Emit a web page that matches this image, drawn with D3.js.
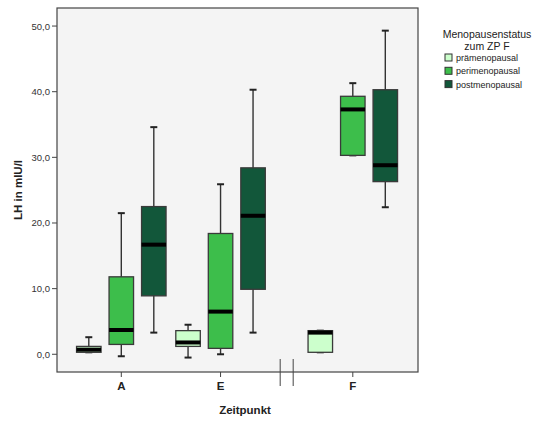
<!DOCTYPE html>
<html lang="de">
<head>
    <meta charset="UTF-8">
    <title>LH nach Zeitpunkt</title>
    <script src="https://d3js.org/d3.v7.min.js"></script>
    <style>
        body {
            margin: 0;
            padding: 0;
            background-color: white;
        }
        svg {
            display: block;
            font-family: Arial, 'Liberation Sans', sans-serif;
        }
        .tick-label {
            font-size: 9.5px;
            fill: #333;
        }
        .axis-title {
            font-size: 11.5px;
            font-weight: bold;
            fill: #222;
        }
    </style>
</head>
<body>
    <svg width="538" height="421"></svg>

    <script>
        // Zeitpunkte und Gruppen
        const zeitpunkte = ["A", "E", "F"];
        const status = ["prämenopausal", "perimenopausal", "postmenopausal"];
        const statusColors = ["#ccffcc", "#3dbe4b", "#12573a"];
        const yTicks = [0, 10, 20, 30, 40, 50];

        // Box-Werte [min, q1, median, q3, max] je Zeitpunkt und Gruppe
        const boxA = [
            [0.3, 0.3, 0.7, 1.2, 2.6],
            [-0.3, 1.5, 3.7, 11.8, 21.5],
            [3.3, 8.9, 16.7, 22.5, 34.6]
        ];
        const boxE = [
            [-0.5, 1.2, 1.8, 3.6, 4.5],
            [0.0, 0.9, 6.5, 18.4, 25.9],
            [3.3, 9.9, 21.1, 28.4, 40.3]
        ];
        const boxF = [
            [0.3, 0.3, 3.3, 3.6, 3.6],
            [30.3, 30.3, 37.3, 39.3, 41.3],
            [22.4, 26.3, 28.8, 40.3, 49.3]
        ];

        const svg = d3.select("svg");
        const plot = { left: 57, top: 8, right: 418, bottom: 372 };

        const yScale = d3.scaleLinear()
            .domain([-2.7, 52.75])
            .range([plot.bottom, plot.top]);

        // equal spacing, F comes after an axis break
        const xCat = d3.scalePoint()
            .domain(zeitpunkte)
            .range([121.3, 319.8]);
        const breakGap = 33;
        function xPos(z) {
            return xCat(z) + (z === "F" ? breakGap : 0);
        }

        const xInner = d3.scalePoint()
            .domain(status)
            .range([-32.5, 32.5]);
        const boxWidth = 24.5;
        const capWidth = 7;

        const rows = [];
        [boxA, boxE, boxF].forEach(function(group, i) {
            group.forEach(function(v, j) {
                rows.push({ zeit: zeitpunkte[i], status: status[j], color: statusColors[j],
                    min: v[0], q1: v[1], median: v[2], q3: v[3], max: v[4] });
            });
        });

        // plot background
        svg.append("rect")
            .attr("x", plot.left)
            .attr("y", plot.top)
            .attr("width", plot.right - plot.left)
            .attr("height", plot.bottom - plot.top)
            .attr("fill", "#f4f4f4")
            .attr("stroke", "#444")
            .attr("stroke-width", 1.2);

        // y ticks
        svg.selectAll(".ytick")
            .data(yTicks)
            .enter()
            .append("line")
            .attr("x1", plot.left - 5)
            .attr("x2", plot.left)
            .attr("y1", function(d) { return yScale(d); })
            .attr("y2", function(d) { return yScale(d); })
            .attr("stroke", "#444");

        svg.selectAll(".ylabel")
            .data(yTicks)
            .enter()
            .append("text")
            .attr("class", "tick-label")
            .attr("x", plot.left - 7)
            .attr("y", function(d) { return yScale(d) + 3.5; })
            .attr("text-anchor", "end")
            .text(function(d) { return d3.format(".1f")(d).replace(".", ","); });

        // x ticks
        svg.selectAll(".xtick")
            .data(zeitpunkte)
            .enter()
            .append("line")
            .attr("x1", function(d) { return xPos(d); })
            .attr("x2", function(d) { return xPos(d); })
            .attr("y1", plot.bottom)
            .attr("y2", plot.bottom + 5)
            .attr("stroke", "#444");

        svg.selectAll(".xlabel")
            .data(zeitpunkte)
            .enter()
            .append("text")
            .attr("class", "axis-title")
            .attr("x", function(d) { return xPos(d); })
            .attr("y", plot.bottom + 18)
            .attr("text-anchor", "middle")
            .text(function(d) { return d; });

        // axis break marks between E and F
        const breakX = (xPos("E") + xCat("F")) / 2 + 16.5;
        [-6.5, 6.5].forEach(function(dx) {
            svg.append("line")
                .attr("x1", breakX + dx)
                .attr("x2", breakX + dx)
                .attr("y1", plot.bottom - 13)
                .attr("y2", plot.bottom + 14)
                .attr("stroke", "#444")
                .attr("stroke-width", 1);
        });

        // boxplots
        const boxes = svg.selectAll(".box")
            .data(rows)
            .enter()
            .append("g")
            .attr("class", "box")
            .attr("transform", function(d) {
                return "translate(" + (xPos(d.zeit) + xInner(d.status)) + ",0)";
            });

        boxes.append("line")
            .attr("x1", 0).attr("x2", 0)
            .attr("y1", function(d) { return yScale(d.max); })
            .attr("y2", function(d) { return yScale(d.min); })
            .attr("stroke", "#333")
            .attr("stroke-width", 1.4);

        boxes.append("line")
            .attr("x1", -capWidth / 2).attr("x2", capWidth / 2)
            .attr("y1", function(d) { return yScale(d.max); })
            .attr("y2", function(d) { return yScale(d.max); })
            .attr("stroke", "#222")
            .attr("stroke-width", 2);

        boxes.append("line")
            .attr("x1", -capWidth / 2).attr("x2", capWidth / 2)
            .attr("y1", function(d) { return yScale(d.min); })
            .attr("y2", function(d) { return yScale(d.min); })
            .attr("stroke", "#222")
            .attr("stroke-width", 2);

        boxes.append("rect")
            .attr("x", -boxWidth / 2)
            .attr("width", boxWidth)
            .attr("y", function(d) { return yScale(d.q3); })
            .attr("height", function(d) { return Math.max(yScale(d.q1) - yScale(d.q3), 1); })
            .attr("fill", function(d) { return d.color; })
            .attr("stroke", "#3a3a3a")
            .attr("stroke-width", 1.3);

        boxes.append("line")
            .attr("x1", -boxWidth / 2).attr("x2", boxWidth / 2)
            .attr("y1", function(d) { return yScale(d.median); })
            .attr("y2", function(d) { return yScale(d.median); })
            .attr("stroke", "black")
            .attr("stroke-width", 4);

        // axis titles
        svg.append("text")
            .attr("class", "axis-title")
            .attr("transform", "translate(22," + ((plot.top + plot.bottom) / 2) + ") rotate(-90)")
            .attr("text-anchor", "middle")
            .text("LH in mIU/l");

        svg.append("text")
            .attr("class", "axis-title")
            .attr("x", 245)
            .attr("y", 414)
            .attr("text-anchor", "middle")
            .text("Zeitpunkt");

        // legend
        const legend = svg.append("g").attr("transform", "translate(487,0)");
        legend.append("text")
            .attr("x", 0).attr("y", 38)
            .attr("text-anchor", "middle")
            .style("font-size", "10.5px")
            .attr("fill", "#222")
            .text("Menopausenstatus");
        legend.append("text")
            .attr("x", 0).attr("y", 50)
            .attr("text-anchor", "middle")
            .style("font-size", "10.5px")
            .attr("fill", "#222")
            .text("zum ZP F");

        const items = legend.selectAll(".item")
            .data(status)
            .enter()
            .append("g")
            .attr("class", "item")
            .attr("transform", function(d, i) { return "translate(-42," + (58 + i * 13.3) + ")"; });

        items.append("rect")
            .attr("x", 0).attr("y", -4)
            .attr("width", 7).attr("height", 7)
            .attr("fill", function(d, i) { return statusColors[i]; })
            .attr("stroke", "#333")
            .attr("stroke-width", 1);

        items.append("text")
            .attr("x", 11).attr("y", 3)
            .style("font-size", "9px")
            .attr("fill", "#222")
            .text(function(d) { return d; });
    </script>
</body>
</html>
